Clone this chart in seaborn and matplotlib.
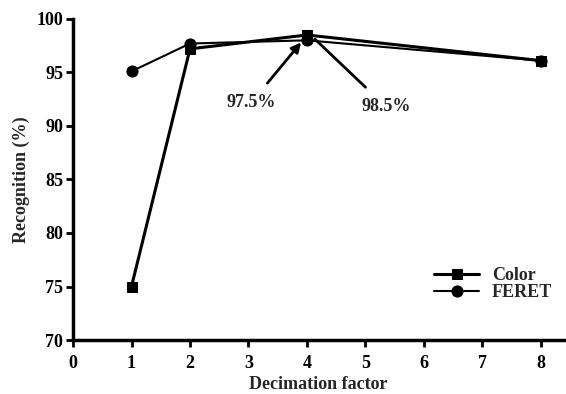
import matplotlib
matplotlib.use("Agg")
import matplotlib.pyplot as plt
import pandas as pd
import seaborn as sns

decimation = [1, 2, 4, 8]
color_vals = [75.0, 97.2, 98.5, 96.1]
feret_vals = [95.1, 97.7, 98.0, 96.1]


def main():
    sns.set_theme(style="ticks")
    plt.rcParams["font.family"] = ["Liberation Serif", "DejaVu Serif"]
    plt.rcParams["font.weight"] = "bold"

    df = pd.DataFrame({
        "Decimation factor": decimation * 2,
        "Recognition": color_vals + feret_vals,
        "Set": ["Color"] * 4 + ["FERET"] * 4,
    })

    fig = plt.figure(figsize=(5.66, 3.94), dpi=100)
    ax = fig.add_axes([0.129, 0.137, 0.868, 0.815])

    sns.lineplot(data=df[df["Set"] == "Color"], x="Decimation factor", y="Recognition",
                 color="black", marker="s", markersize=7.5, linewidth=2.2,
                 markeredgecolor="black", label="Color", ax=ax)
    sns.lineplot(data=df[df["Set"] == "FERET"], x="Decimation factor", y="Recognition",
                 color="black", marker="o", markersize=8, linewidth=1.5,
                 markeredgecolor="black", label="FERET", ax=ax)

    ax.annotate("97.5%", xy=(3.93, 98.0), xytext=(3.05, 92.2),
                fontsize=13, fontweight="bold", ha="center", va="center",
                arrowprops=dict(arrowstyle="-|>", color="black", lw=2,
                                shrinkA=7, shrinkB=2, mutation_scale=14))
    ax.annotate("98.5%", xy=(4.1, 98.3), xytext=(5.35, 91.8),
                fontsize=13, fontweight="bold", ha="center", va="center",
                arrowprops=dict(arrowstyle="-", color="black", lw=2,
                                shrinkA=8, shrinkB=2))

    ax.set_xlim(0, 8.4)
    ax.set_ylim(70, 100)
    ax.set_xticks(range(0, 9))
    ax.set_yticks(range(70, 101, 5))
    ax.set_xlabel("Decimation factor", fontsize=13, fontweight="bold", labelpad=3)
    ax.set_ylabel("Recognition (%)", fontsize=13, fontweight="bold", labelpad=5)
    ax.tick_params(direction="out", length=5, width=2, labelsize=13, colors="black", pad=2)
    ax.tick_params(axis="x", pad=6)
    for lab in ax.get_xticklabels() + ax.get_yticklabels():
        lab.set_fontweight("bold")

    sns.despine(ax=ax)
    for side in ["left", "bottom"]:
        ax.spines[side].set_linewidth(2.5)
        ax.spines[side].set_color("black")

    ax.legend(loc="upper left", bbox_to_anchor=(0.72, 0.25), frameon=False,
              fontsize=13, handlelength=2.5, handletextpad=0.7, labelspacing=0.0,
              borderaxespad=0)

    fig.savefig("out.png", dpi=100)


if __name__ == "__main__":
    main()
